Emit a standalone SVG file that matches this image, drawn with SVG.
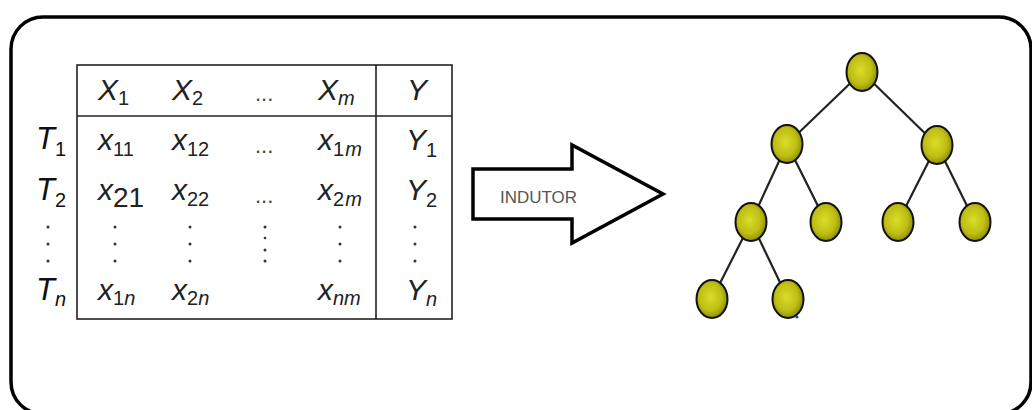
<svg xmlns="http://www.w3.org/2000/svg" width="1032" height="410" viewBox="0 0 1032 410">
  <defs>
    <radialGradient id="nodeFill" cx="0.45" cy="0.45" r="0.6">
      <stop offset="0" stop-color="#dcdc2a"/>
      <stop offset="0.6" stop-color="#bebe14"/>
      <stop offset="1" stop-color="#858502"/>
    </radialGradient>
    <style>
      .frame { fill: #ffffff; stroke: #000000; stroke-width: 3.5; }
      .grid { fill: none; stroke: #222222; stroke-width: 1.6; }
      .m { font-family: "Liberation Sans", Arial, sans-serif; font-style: italic; font-size: 30px; fill: #222222; }
      .t { font-family: "Liberation Sans", Arial, sans-serif; font-style: italic; font-size: 31px; fill: #111111; }
      .s { font-style: normal; font-size: 20px; }
      .si { font-style: italic; font-size: 20px; }
      .big { font-style: normal; font-size: 28px; }
      .dots { font-family: "Liberation Sans", Arial, sans-serif; font-size: 22px; fill: #444444; }
      .vd { fill: #333333; }
      .arrow { fill: #ffffff; stroke: #000000; stroke-width: 3.5; stroke-linejoin: miter; }
      .label { font-family: "Liberation Sans", Arial, sans-serif; font-size: 17px; fill: #555555; }
      .node { fill: url(#nodeFill); stroke: #111111; stroke-width: 2; }
      .edge { stroke: #222222; stroke-width: 2.2; fill: none; }
    </style>
  </defs>

  <!-- outer rounded frame -->
  <rect class="frame" x="11" y="17" width="1020" height="397" rx="32" ry="32"/>

  <!-- attribute table -->
  <g id="table">
    <rect class="grid" x="77" y="65" width="375" height="254"/>
    <line class="grid" x1="77" y1="116" x2="452" y2="116"/>
    <line class="grid" x1="376" y1="65" x2="376" y2="319"/>

    <!-- header row -->
    <text class="m" x="98" y="100">X<tspan class="s" dy="5">1</tspan></text>
    <text class="m" x="172" y="100">X<tspan class="s" dy="5">2</tspan></text>
    <text class="dots" x="255" y="101">...</text>
    <text class="m" x="318" y="100">X<tspan class="si" dy="5">m</tspan></text>
    <text class="m" x="407" y="100">Y</text>

    <!-- row T1 -->
    <text class="t" x="36" y="149">T<tspan class="s" dy="7">1</tspan></text>
    <text class="m" x="98" y="150">x<tspan class="s" dy="6">11</tspan></text>
    <text class="m" x="172" y="150">x<tspan class="s" dy="6">12</tspan></text>
    <text class="dots" x="255" y="153">...</text>
    <text class="m" x="318" y="150">x<tspan class="s" dy="6">1</tspan><tspan class="si" dx="1">m</tspan></text>
    <text class="m" x="406" y="150">Y<tspan class="s" dy="7">1</tspan></text>

    <!-- row T2 -->
    <text class="t" x="36" y="200">T<tspan class="s" dy="7">2</tspan></text>
    <text class="m" x="98" y="200">x<tspan class="big" dy="7">21</tspan></text>
    <text class="m" x="172" y="200">x<tspan class="s" dy="6">22</tspan></text>
    <text class="dots" x="255" y="203">...</text>
    <text class="m" x="318" y="200">x<tspan class="s" dy="6">2</tspan><tspan class="si" dx="1">m</tspan></text>
    <text class="m" x="406" y="200">Y<tspan class="s" dy="7">2</tspan></text>

    <!-- vertical ellipses -->
    <g class="vd">
      <circle cx="48" cy="227" r="1.5"/><circle cx="48" cy="244" r="1.5"/><circle cx="48" cy="261" r="1.5"/>
      <circle cx="115" cy="227" r="1.5"/><circle cx="115" cy="244" r="1.5"/><circle cx="115" cy="261" r="1.5"/>
      <circle cx="190" cy="227" r="1.5"/><circle cx="190" cy="244" r="1.5"/><circle cx="190" cy="261" r="1.5"/>
      <circle cx="265" cy="227" r="1.5"/><circle cx="265" cy="238" r="1.3"/><circle cx="265" cy="250" r="1.5"/><circle cx="265" cy="261" r="1.5"/>
      <circle cx="340" cy="227" r="1.5"/><circle cx="340" cy="244" r="1.5"/><circle cx="340" cy="261" r="1.5"/>
      <circle cx="415" cy="227" r="1.5"/><circle cx="415" cy="244" r="1.5"/><circle cx="415" cy="261" r="1.5"/>
    </g>

    <!-- row Tn -->
    <text class="t" x="36" y="300">T<tspan class="si" dy="6">n</tspan></text>
    <text class="m" x="98" y="300">x<tspan class="s" dy="5">1</tspan><tspan class="si">n</tspan></text>
    <text class="m" x="172" y="300">x<tspan class="s" dy="5">2</tspan><tspan class="si">n</tspan></text>
    <text class="m" x="318" y="300">x<tspan class="si" dy="5">nm</tspan></text>
    <text class="m" x="406" y="300">Y<tspan class="si" dy="6">n</tspan></text>
  </g>

  <!-- block arrow -->
  <g id="inductor">
    <polygon class="arrow" points="473,169 572,169 572,145 663,194 572,243 572,219 473,219"/>
    <text class="label" x="500" y="203" textLength="77" lengthAdjust="spacingAndGlyphs">INDUTOR</text>
  </g>

  <!-- tree connectors -->
  <g id="connectors">
    <line class="edge" x1="862" y1="72" x2="787" y2="144"/>
    <line class="edge" x1="862" y1="72" x2="937" y2="145"/>
    <line class="edge" x1="787" y1="144" x2="751" y2="222"/>
    <line class="edge" x1="787" y1="144" x2="826" y2="222"/>
    <line class="edge" x1="937" y1="145" x2="898" y2="222"/>
    <line class="edge" x1="937" y1="145" x2="975" y2="222"/>
    <line class="edge" x1="751" y1="222" x2="712" y2="299"/>
    <line class="edge" x1="751" y1="222" x2="788" y2="299"/>
  </g>

  <!-- tree nodes -->
  <g id="n-root"><ellipse class="node" cx="862" cy="72" rx="15.5" ry="19"/></g>
  <g id="n-l"><ellipse class="node" cx="787" cy="144" rx="15.5" ry="19"/></g>
  <g id="n-r"><ellipse class="node" cx="937" cy="145" rx="15.5" ry="19"/></g>
  <g id="n-ll"><ellipse class="node" cx="751" cy="222" rx="15.5" ry="19"/></g>
  <g id="n-lr"><ellipse class="node" cx="826" cy="222" rx="15.5" ry="19"/></g>
  <g id="n-rl"><ellipse class="node" cx="898" cy="222" rx="15.5" ry="19"/></g>
  <g id="n-rr"><ellipse class="node" cx="975" cy="222" rx="15.5" ry="19"/></g>
  <g id="n-lll"><ellipse class="node" cx="712" cy="299" rx="15.5" ry="19"/></g>
  <g id="n-llr"><ellipse class="node" cx="788" cy="299" rx="15.5" ry="19"/></g>
  <circle cx="797" cy="317" r="1.6" fill="#3344cc"/>
</svg>
